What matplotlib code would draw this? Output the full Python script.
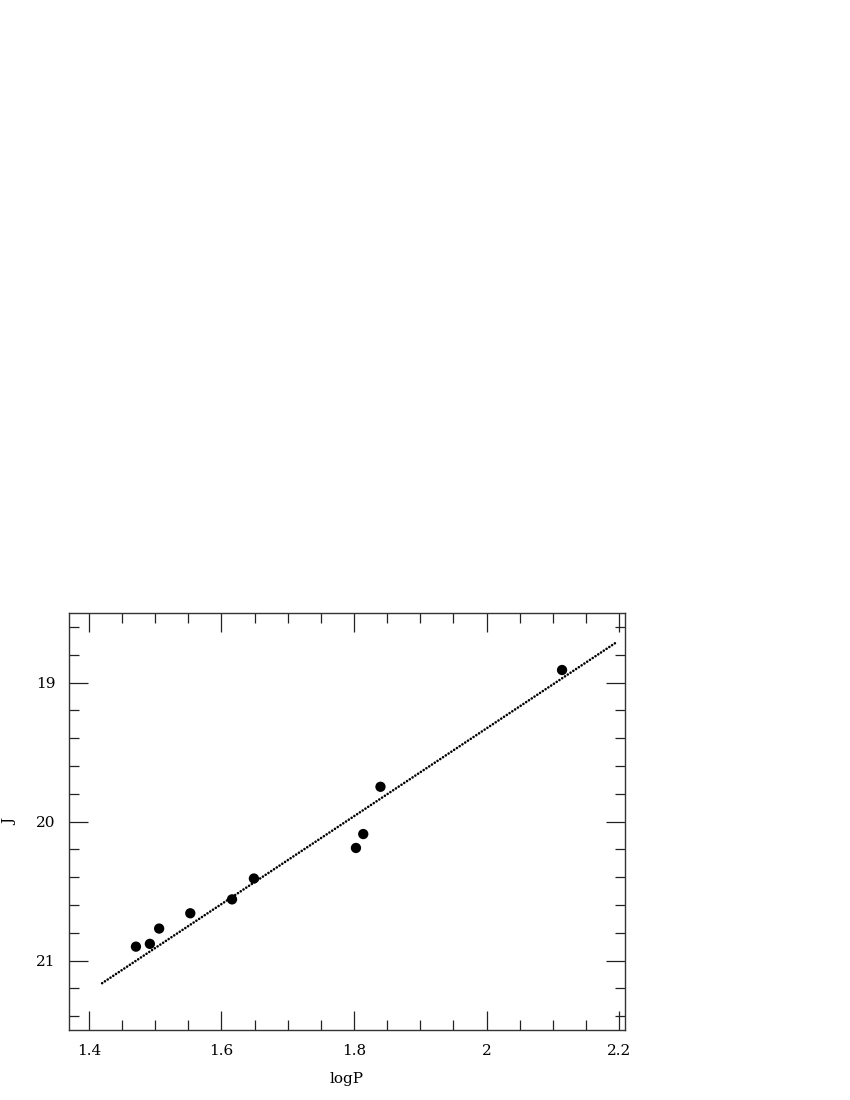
import numpy as np
import matplotlib
matplotlib.use('Agg')
import matplotlib.pyplot as plt
from matplotlib.ticker import MultipleLocator, FuncFormatter

# period-luminosity data
logP = [1.471, 1.492, 1.506, 1.553, 1.616, 1.649, 1.803, 1.814, 1.840, 2.114]
Jmag = [20.90, 20.88, 20.77, 20.66, 20.56, 20.41, 20.19, 20.09, 19.75, 18.91]

# fitted relation J = a + b*logP
fit_a = 25.65
fit_b = -3.16
fit_range = [1.42, 2.195]

plt.rcParams['font.family'] = ['DejaVu Serif']

fig = plt.figure(figsize=(8.5, 11), dpi=100)
ax = fig.add_axes([0.0812, 0.0636, 0.6541, 0.3791])

xf = np.array(fit_range)
ax.plot(xf, fit_a + fit_b * xf, color='black', lw=1.9, ls=(0, (0.01, 1.25)),
        dash_capstyle='round')
ax.scatter(logP, Jmag, s=55, color='black', zorder=3, edgecolors='none')

ax.set_xlim(1.37, 2.209)
ax.set_ylim(21.5, 18.5)

ax.xaxis.set_major_locator(MultipleLocator(0.2))
ax.xaxis.set_minor_locator(MultipleLocator(0.05))
ax.yaxis.set_major_locator(MultipleLocator(1))
ax.yaxis.set_minor_locator(MultipleLocator(0.2))
ax.xaxis.set_major_formatter(FuncFormatter(lambda v, p: '%g' % round(v, 2)))
ax.yaxis.set_major_formatter(FuncFormatter(lambda v, p: '%g' % round(v, 2)))

ax.tick_params(which='both', direction='in', top=True, right=True,
               labelsize=11, width=0.9, color='#222222')
ax.tick_params(which='major', length=14, pad=10)
ax.tick_params(which='minor', length=7)
for s in ax.spines.values():
    s.set_linewidth(1.0)
    s.set_color('#333333')

ax.set_xlabel('logP', fontsize=11, labelpad=10)
ax.set_ylabel('J', fontsize=11)
ax.yaxis.set_label_coords(-0.093, 0.5)

fig.savefig('out.png', dpi=100)
